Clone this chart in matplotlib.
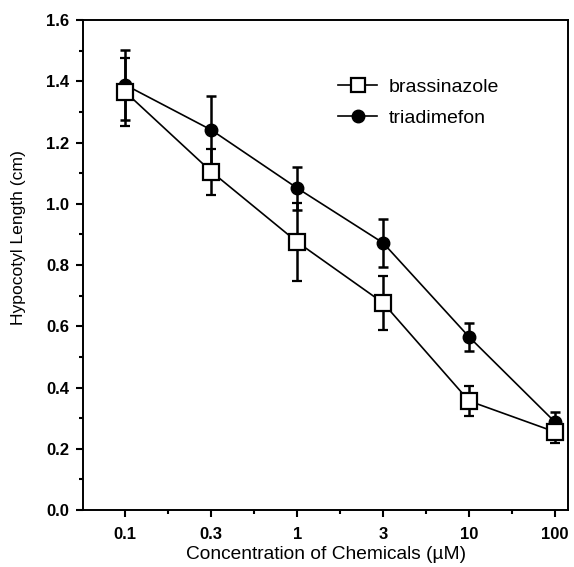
import matplotlib
matplotlib.use("Agg")
import matplotlib.pyplot as plt
from matplotlib.lines import Line2D
from matplotlib.ticker import MultipleLocator, FixedLocator, FormatStrFormatter

plt.rcParams["font.family"] = ["Liberation Sans", "DejaVu Sans"]

concentrations = ["0.1", "0.3", "1", "3", "10", "100"]
brassinazole = [1.365, 1.105, 0.875, 0.676, 0.356, 0.255]
brassinazole_err = [0.11, 0.075, 0.127, 0.087, 0.049, 0.035]
triadimefon = [1.388, 1.241, 1.051, 0.872, 0.565, 0.287]
triadimefon_err = [0.115, 0.11, 0.07, 0.077, 0.046, 0.032]

fig = plt.figure(figsize=(5.74, 5.67), dpi=100)
ax = fig.add_axes([0.145, 0.1005, 0.8445, 0.8642])

x = list(range(len(concentrations)))

ax.errorbar(x, triadimefon, yerr=triadimefon_err, color="black", lw=1.2,
            marker="o", markersize=9, markerfacecolor="black",
            elinewidth=1.8, capsize=3.5, capthick=1.8, zorder=2)
ax.errorbar(x, brassinazole, yerr=brassinazole_err, color="black", lw=1.2,
            marker="s", markersize=11, markerfacecolor="white", markeredgewidth=1.6,
            elinewidth=1.8, capsize=3.5, capthick=1.8, zorder=3)

ax.set_xlim(-0.49, 5.15)
ax.set_ylim(0, 1.6)
ax.set_xticks(x)
ax.set_xticklabels(concentrations)
ax.xaxis.set_minor_locator(FixedLocator([i + 0.5 for i in x[:-1]]))
ax.yaxis.set_major_locator(MultipleLocator(0.2))
ax.yaxis.set_minor_locator(MultipleLocator(0.1))
ax.yaxis.set_major_formatter(FormatStrFormatter("%.1f"))

for spine in ax.spines.values():
    spine.set_linewidth(1.4)
ax.tick_params(which="major", direction="out", length=5, width=1.5, labelsize=12, pad=5)
ax.tick_params(which="minor", direction="out", length=3, width=1.5)
ax.tick_params(axis="x", which="major", pad=7)
for lbl in ax.get_xticklabels() + ax.get_yticklabels():
    lbl.set_fontweight("bold")

ax.set_xlabel("Concentration of Chemicals (\u00b5M)", fontsize=13.8, labelpad=3)
ax.set_ylabel("Hypocotyl Length (cm)", fontsize=12.6)
ax.yaxis.set_label_coords(-0.118, 0.557)

handles = [
    Line2D([], [], color="black", lw=1.2, marker="s", markersize=10,
           markerfacecolor="white", markeredgewidth=1.6),
    Line2D([], [], color="black", lw=1.2, marker="o", markersize=9,
           markerfacecolor="black"),
]
ax.legend(handles, ["brassinazole", "triadimefon"], loc="upper left",
          bbox_to_anchor=(0.49, 0.917), frameon=False, fontsize=14,
          handlelength=2.0, handletextpad=0.6, labelspacing=0.7)

fig.savefig("out.png", dpi=100)
